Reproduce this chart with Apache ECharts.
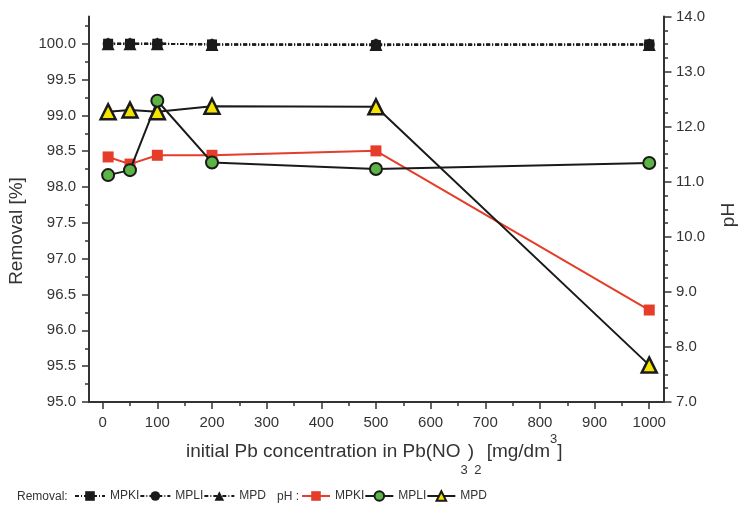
<!DOCTYPE html>
<html>
<head>
<meta charset="utf-8">
<script src="https://cdn.jsdelivr.net/npm/echarts@6/dist/echarts.min.js"></script>
<style>html,body{margin:0;padding:0;background:#fff}#c{width:738px;height:508px}</style>
</head>
<body>
<div id="c"></div>
<script>
// ---- data ----
const concentration = [10, 50, 100, 200, 500, 1000];
const removalMPKI = [100.0, 100.0, 100.0, 99.99, 99.98, 99.99];
const removalMPLI = [100.0, 100.0, 100.0, 99.99, 99.99, 99.99];
const removalMPD  = [100.0, 100.0, 100.0, 99.99, 99.99, 99.99];
const phMPKI = [11.45, 11.32, 11.48, 11.48, 11.56, 8.67];
const phMPLI = [11.12, 11.21, 12.47, 11.35, 11.23, 11.34];
const phMPD  = [12.27, 12.30, 12.27, 12.37, 12.36, 7.67];
const xTicks = [0, 100, 200, 300, 400, 500, 600, 700, 800, 900, 1000];
const xMinorTicks = [50, 150, 250, 350, 450, 550, 650, 750, 850, 950];
const removalTicks = [95.0, 95.5, 96.0, 96.5, 97.0, 97.5, 98.0, 98.5, 99.0, 99.5, 100.0];
const removalMinorTicks = [95.25, 95.75, 96.25, 96.75, 97.25, 97.75, 98.25, 98.75, 99.25, 99.75, 100.25];

const FONT = "'Liberation Sans', Arial, Helvetica, sans-serif";
const AX = '#333';
const BLACK = '#1a1a1a';
const RED = '#e63c2a';
const GREEN = '#5cb346';
const YELLOW = '#f5e400';

const pairs = (ys) => concentration.map((x, i) => [x, ys[i]]);

const chart = echarts.init(document.getElementById('c'));

const removalLine = { color: BLACK, width: 2, type: [4, 2, 1, 2] };
const lineAx = { show: true, onZero: false, lineStyle: { color: AX, width: 2 } };
const noLine = { show: false, onZero: false };

const option = {
  animation: false,
  textStyle: { fontFamily: FONT },
  grid: { left: 89, right: 74, top: 16.5, bottom: 106, containLabel: false },
  xAxis: [
    {
      type: 'value', min: -25, max: 1027, position: 'bottom',
      splitLine: { show: false },
      axisLine: lineAx,
      axisTick: { show: true, customValues: xTicks, length: 7, inside: false, lineStyle: { color: AX, width: 1.5 } },
      axisLabel: { show: true, customValues: xTicks, margin: 13, fontSize: 15, color: AX, fontFamily: FONT,
                   formatter: v => String(v) }
    },
    {
      type: 'value', min: -25, max: 1027, position: 'bottom',
      splitLine: { show: false },
      axisLine: noLine,
      axisTick: { show: true, customValues: xMinorTicks, length: 4, lineStyle: { color: AX, width: 1.5 } },
      axisLabel: { show: false }
    }
  ],
  yAxis: [
    {
      type: 'value', min: 95, max: 100.38, position: 'left',
      splitLine: { show: false },
      axisLine: lineAx,
      axisTick: { show: true, customValues: removalTicks, length: 7, lineStyle: { color: AX, width: 1.5 } },
      axisLabel: { show: true, customValues: removalTicks, margin: 13, fontSize: 15, color: AX, fontFamily: FONT,
                   formatter: v => Number(v).toFixed(1) }
    },
    {
      type: 'value', min: 7, max: 14, interval: 1, position: 'right',
      splitLine: { show: false },
      axisLine: lineAx,
      axisTick: { show: true, length: 7.5, lineStyle: { color: AX, width: 1.5 } },
      minorTick: { show: true, splitNumber: 4, length: 4, lineStyle: { color: AX, width: 1.5 } },
      axisLabel: { show: true, margin: 12, fontSize: 15, color: AX, fontFamily: FONT,
                   formatter: v => Number(v).toFixed(1) }
    },
    {
      type: 'value', min: 95, max: 100.38, position: 'left',
      splitLine: { show: false },
      axisLine: noLine,
      axisTick: { show: true, customValues: removalMinorTicks, length: 4, lineStyle: { color: AX, width: 1.5 } },
      axisLabel: { show: false }
    }
  ],
  legend: [
    {
      left: 69, top: 485, itemWidth: 30, itemHeight: 12, itemGap: 0, selectedMode: false,
      data: ['R-MPKI', 'R-MPLI', 'R-MPD'],
      formatter: n => n.split('-')[1],
      textStyle: { fontSize: 12, color: AX, fontFamily: FONT }
    },
    {
      left: 296, top: 485, itemWidth: 28, itemHeight: 12, itemGap: 0, selectedMode: false,
      data: ['pH-MPKI', 'pH-MPLI', 'pH-MPD'],
      formatter: n => n.split('-')[1],
      textStyle: { fontSize: 12, color: AX, fontFamily: FONT }
    }
  ],
  graphic: [
    { type: 'text', x: 17, y: 497, style: { text: 'Removal:', fontSize: 12, fontFamily: FONT, fill: AX, verticalAlign: 'middle', textVerticalAlign: 'middle' } },
    { type: 'text', x: 277, y: 497, style: { text: 'pH :', fontSize: 12, fontFamily: FONT, fill: AX, verticalAlign: 'middle', textVerticalAlign: 'middle' } },
    { type: 'text', x: 17, y: 231, rotation: Math.PI / 2,
      style: { text: 'Removal [%]', fontSize: 19, fontFamily: FONT, fill: AX, align: 'center', textAlign: 'center', verticalAlign: 'middle', textVerticalAlign: 'middle' } },
    { type: 'text', x: 729, y: 215, rotation: Math.PI / 2,
      style: { text: 'pH', fontSize: 19, fontFamily: FONT, fill: AX, align: 'center', textAlign: 'center', verticalAlign: 'middle', textVerticalAlign: 'middle' } },
    { type: 'text', x: 186, y: 451.7,
      style: {
        text: '{m|initial Pb concentration in Pb(NO}{sub|3}{m|)}{sub|2}{m| [mg/dm}{sup|3}{m|]}',
        fontSize: 19, fontFamily: FONT, fill: AX, lineHeight: 50,
        align: 'left', textAlign: 'left', verticalAlign: 'middle', textVerticalAlign: 'middle',
        rich: {
          m: { fontSize: 19, lineHeight: 50, fontFamily: FONT, fill: AX, color: AX, verticalAlign: 'middle' },
          sub: { fontSize: 13, lineHeight: 13, fontFamily: FONT, fill: AX, color: AX, verticalAlign: 'bottom' },
          sup: { fontSize: 13, lineHeight: 13, fontFamily: FONT, fill: AX, color: AX, verticalAlign: 'top', padding: [6, 0, 0, 0] }
        }
      } }
  ],
  series: [
    { name: 'R-MPKI', type: 'line', xAxisIndex: 0, yAxisIndex: 0, data: pairs(removalMPKI),
      symbol: 'rect', symbolSize: 10, itemStyle: { color: BLACK }, lineStyle: removalLine, z: 2 },
    { name: 'R-MPLI', type: 'line', xAxisIndex: 0, yAxisIndex: 0, data: pairs(removalMPLI),
      symbol: 'circle', symbolSize: 11, itemStyle: { color: BLACK }, lineStyle: removalLine, z: 2 },
    { name: 'R-MPD', type: 'line', xAxisIndex: 0, yAxisIndex: 0, data: pairs(removalMPD),
      symbol: 'triangle', symbolSize: 13, itemStyle: { color: BLACK }, lineStyle: removalLine, z: 2 },
    { name: 'pH-MPKI', type: 'line', xAxisIndex: 0, yAxisIndex: 1, data: pairs(phMPKI),
      symbol: 'rect', symbolSize: 11, itemStyle: { color: RED }, lineStyle: { color: RED, width: 2 }, z: 3 },
    { name: 'pH-MPD', type: 'line', xAxisIndex: 0, yAxisIndex: 1, data: pairs(phMPD),
      symbol: 'triangle', symbolSize: 15, itemStyle: { color: YELLOW, borderColor: BLACK, borderWidth: 2.5 },
      lineStyle: { color: BLACK, width: 2 }, z: 4 },
    { name: 'pH-MPLI', type: 'line', xAxisIndex: 0, yAxisIndex: 1, data: pairs(phMPLI),
      symbol: 'circle', symbolSize: 12, itemStyle: { color: GREEN, borderColor: BLACK, borderWidth: 2 },
      lineStyle: { color: BLACK, width: 2 }, z: 5 }
  ]
};
chart.setOption(option);
</script>
</body>
</html>
